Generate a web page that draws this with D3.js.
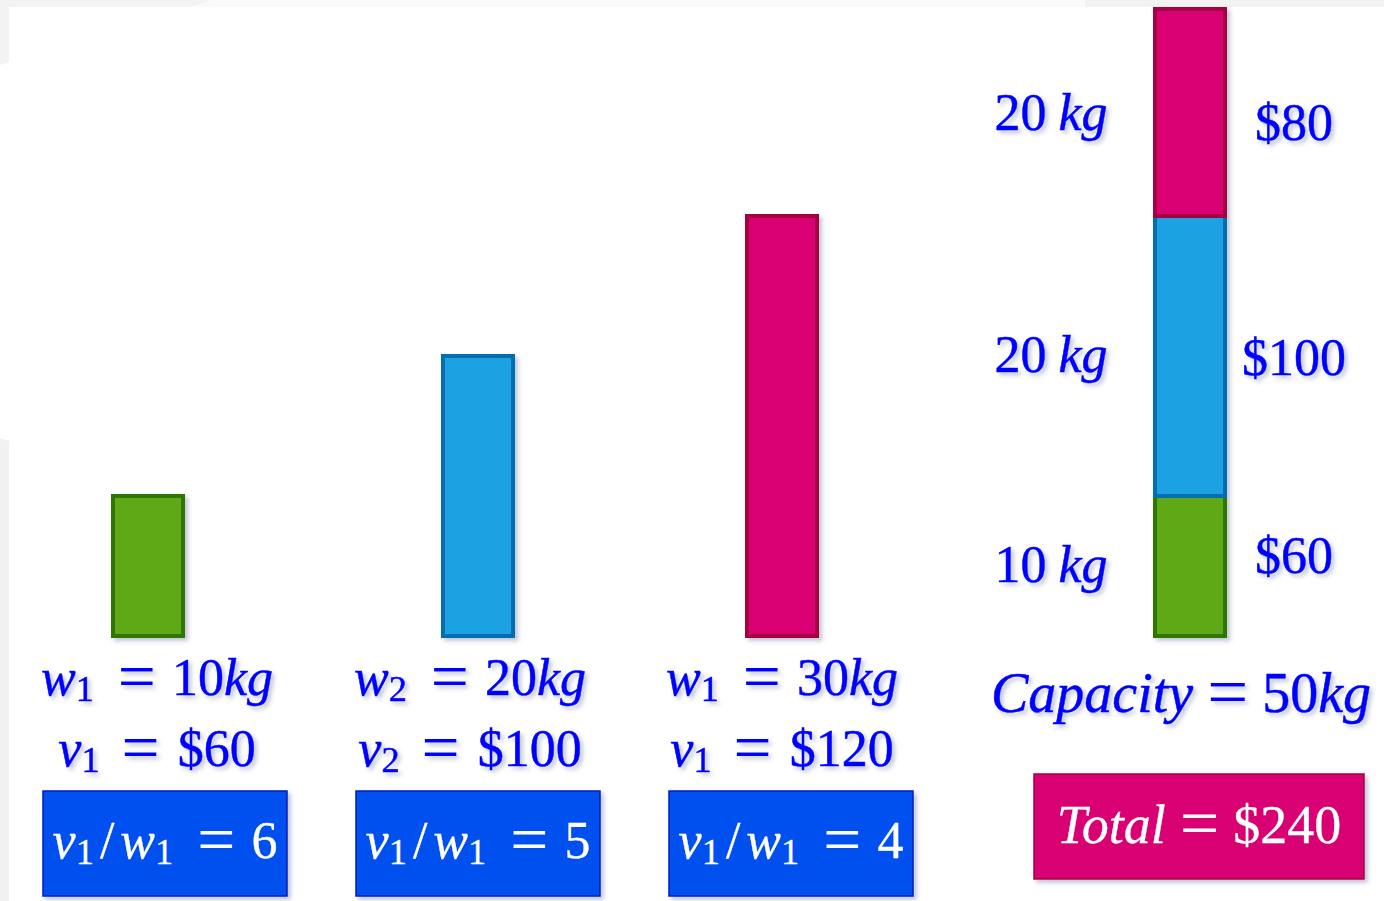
<!DOCTYPE html>
<html>
<head>
<meta charset="utf-8">
<script src="https://cdn.jsdelivr.net/npm/d3@7"></script>
<style>
  html, body { margin: 0; padding: 0; background: #ffffff; }
  svg { display: block; }
</style>
</head>
<body>
<script>
// Items available for the knapsack
const itemIds      = ["a", "b", "c"];
const itemWeights  = [10, 20, 30];          // kg
const itemValues   = [60, 100, 120];        // $
const weightSubs   = ["1", "2", "1"];       // subscripts as written in the labels
const valueSubs    = ["1", "2", "1"];
const ratioValues  = [6, 5, 4];             // value per kg
const itemFills    = ["#60a917", "#1ba1e2", "#d80073"];
const itemStrokes  = ["#2d7600", "#006eaf", "#a50040"];

// Contents of the filled knapsack (bottom to top)
const packedIds     = ["a", "b", "c"];
const packedWeights = [10, 20, 20];         // kg
const packedValues  = [60, 100, 80];        // $
const capacity      = 50;                   // kg
const totalValue    = 240;                  // $

const W = 1384, H = 901;
const svg = d3.select("body").append("svg").attr("width", W).attr("height", H);

// soft drop shadow used by every shape and label
const defs = svg.append("defs");
const sh = defs.append("filter").attr("id", "shadow")
  .attr("x", "-20%").attr("y", "-20%").attr("width", "140%").attr("height", "140%");
sh.append("feDropShadow").attr("dx", 3).attr("dy", 3).attr("stdDeviation", 2.2)
  .attr("flood-color", "#4a5a8a").attr("flood-opacity", 0.35);

// page background with light frame remnants
svg.append("rect").attr("width", W).attr("height", H).attr("fill", "#ffffff");
svg.append("polygon").attr("points", "0,0 1384,0 1384,7 0,7").attr("fill", "#fafafa");
svg.append("polygon").attr("points", "0,0 192,0 210,0 190,7 0,7").attr("fill", "#f3f3f3");
svg.append("polygon").attr("points", "1085,0 1384,0 1384,7 1085,7").attr("fill", "#f2f2f2");
svg.append("polygon").attr("points", "0,0 9,0 9,62 0,65").attr("fill", "#f3f3f3");
svg.append("polygon").attr("points", "0,438 9,441 9,901 0,901").attr("fill", "#f1f1f1");

// scales
const baseY = 636;
const y = d3.scaleLinear().domain([0, 10]).range([baseY, baseY - 140]);
const x = d3.scaleOrdinal().domain(itemIds).range([148, 478, 782]);
const stackX = 1190;
const barW = 70;
const topLimit = 9;

const fillOf = d3.scaleOrdinal().domain(itemIds).range(itemFills);
const strokeOf = d3.scaleOrdinal().domain(itemIds).range(itemStrokes);

// label column centres (formulas sit slightly apart from the bar axis)
const textX = d3.scaleOrdinal().domain(itemIds).range([157, 470, 782]);
const boxX  = d3.scaleOrdinal().domain(itemIds).range([165, 478, 791]);

const serif = "'Liberation Serif', 'Times New Roman', serif";
const blue = "#0000ff";

// build a math-like label from segments; subscripts drop, "=" is drawn wider
function mathText(g, cx, by, size, color, segs, weight) {
  const t = g.append("text")
    .attr("x", cx).attr("y", by)
    .attr("text-anchor", "middle")
    .attr("font-family", serif)
    .attr("font-size", size)
    .attr("fill", color)
    .attr("stroke", color)
    .attr("stroke-width", weight == null ? 0.5 : weight);
  let cur = 0;
  segs.forEach(s => {
    const ts = t.append("tspan").text(s.t);
    let want = 0;
    if (s.it) ts.attr("font-style", "italic");
    if (s.sub) { ts.attr("font-size", size * 0.7); want = size * 0.12; }
    if (s.eq) { ts.attr("font-size", size * 1.3).attr("stroke-width", 0); want = size * 0.07; }
    if (want !== cur) ts.attr("dy", want - cur);
    cur = want;
    if (s.dx) ts.attr("dx", s.dx);
  });
  return t;
}

// individual item bars
const items = itemIds.map((id, i) => ({
  id, w: itemWeights[i], v: itemValues[i], ws: weightSubs[i], vs: valueSubs[i], r: ratioValues[i]
}));

const barG = svg.append("g").attr("filter", "url(#shadow)");
barG.selectAll("rect").data(items).join("rect")
  .attr("x", d => x(d.id) - barW / 2)
  .attr("y", d => y(d.w))
  .attr("width", barW)
  .attr("height", d => y(0) - y(d.w))
  .attr("fill", d => fillOf(d.id))
  .attr("stroke", d => strokeOf(d.id))
  .attr("stroke-width", 4);

// weight / value formulas under each bar
const lab = svg.append("g").attr("filter", "url(#shadow)");
items.forEach(d => {
  mathText(lab, textX(d.id), 695, 52, blue, [
    { t: "w", it: true }, { t: d.ws, sub: true },
    { t: "=", eq: true, dx: 24 },
    { t: d.w, dx: 16 }, { t: "kg", it: true }
  ]);
  mathText(lab, textX(d.id), 766, 52, blue, [
    { t: "v", it: true }, { t: d.vs, sub: true },
    { t: "=", eq: true, dx: 22 },
    { t: "$" + d.v, dx: 18 }
  ]);
});

// value-per-weight boxes
const boxW = 244, boxH = 105, boxTop = 791;
const boxG = svg.append("g");
boxG.selectAll("rect").data(items).join("rect")
  .attr("x", d => boxX(d.id) - boxW / 2)
  .attr("y", boxTop)
  .attr("width", boxW).attr("height", boxH)
  .attr("fill", "#0050ef").attr("stroke", "#001dbc").attr("stroke-width", 1.5)
  .attr("filter", "url(#shadow)");
items.forEach(d => {
  mathText(boxG, boxX(d.id), 858, 52, "#ffffff", [
    { t: "v", it: true }, { t: "1", sub: true },
    { t: "/", dx: 6 },
    { t: "w", it: true, dx: 6 }, { t: "1", sub: true },
    { t: "=", eq: true, dx: 24 },
    { t: d.r, dx: 16 }
  ], 0.3);
});

// knapsack stack
let acc = 0;
const packed = packedIds.map((id, i) => {
  const s = { id, w: packedWeights[i], v: packedValues[i], y0: acc, y1: acc + packedWeights[i] };
  acc += packedWeights[i];
  return s;
});
const segTop = d => Math.max(y(d.y1), topLimit);
const stackG = svg.append("g").attr("filter", "url(#shadow)");
stackG.selectAll("rect").data(packed).join("rect")
  .attr("x", stackX - barW / 2)
  .attr("y", d => segTop(d))
  .attr("width", barW)
  .attr("height", d => y(d.y0) - segTop(d))
  .attr("fill", d => fillOf(d.id))
  .attr("stroke", d => strokeOf(d.id))
  .attr("stroke-width", 4);

const stackLab = svg.append("g").attr("filter", "url(#shadow)");
const kgBase = [582, 372, 130];
const vBase = [573, 375, 140];
packed.forEach((d, i) => {
  mathText(stackLab, 1051, kgBase[i], 52, blue, [
    { t: d.w }, { t: "kg", it: true, dx: 12 }
  ]);
  mathText(stackLab, 1294, vBase[i], 52, blue, [{ t: "$" + d.v }]);
});

// capacity and total
mathText(stackLab, 1181, 712, 56, blue, [
  { t: "Capacity", it: true },
  { t: "=", eq: true, dx: 14 },
  { t: capacity, dx: 14 }, { t: "kg", it: true }
]);

const totG = svg.append("g");
totG.append("rect")
  .attr("x", 1034).attr("y", 774).attr("width", 330).attr("height", 105)
  .attr("fill", "#d80073").attr("stroke", "#a50040").attr("stroke-width", 1.5)
  .attr("filter", "url(#shadow)");
mathText(totG, 1199, 843, 54, "#ffffff", [
  { t: "Total", it: true },
  { t: "=", eq: true, dx: 14 },
  { t: "$" + totalValue, dx: 14 }
], 0.3);
</script>
</body>
</html>
